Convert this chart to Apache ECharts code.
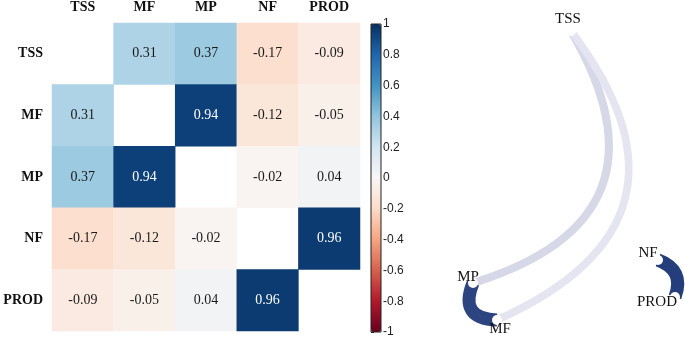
<!DOCTYPE html>
<html>
<head>
<meta charset="utf-8">
<script src="https://cdn.jsdelivr.net/npm/echarts@6/dist/echarts.min.js"></script>
<style>
  html, body { margin: 0; padding: 0; background: #fff; }
  #chart { width: 685px; height: 338px; }
</style>
</head>
<body>
<div id="chart"></div>
<script>
// variables (matrix order)
const vars = ['TSS', 'MF', 'MP', 'NF', 'PROD'];
// correlation matrix, null on the diagonal
const corrTSS  = [null, 0.31, 0.37, -0.17, -0.09];
const corrMF   = [0.31, null, 0.94, -0.12, -0.05];
const corrMP   = [0.37, 0.94, null, -0.02, 0.04];
const corrNF   = [-0.17, -0.12, -0.02, null, 0.96];
const corrPROD = [-0.09, -0.05, 0.04, 0.96, null];
const corrRows = [corrTSS, corrMF, corrMP, corrNF, corrPROD];

// network layout (node positions, layout units)
const netNodes = ['TSS', 'MP', 'MF', 'NF', 'PROD'];
const netX = [571, 473, 497, 658, 675];
const netY = [31, 283, 320, 260, 297];
// network edges (pairs with |r| > 0.3)
const netEdges = [['TSS', 'MP', 0.37], ['TSS', 'MF', 0.31], ['MP', 'MF', 0.94], ['NF', 'PROD', 0.96]];

const rdbu = ['#67001f', '#b2182b', '#d6604d', '#f4a582', '#fddbc7', '#f9f7f6',
              '#d1e5f0', '#92c5de', '#4393c3', '#2166ac', '#053061'];
const serif = 'Liberation Serif';

const heatData = [];
corrRows.forEach((row, i) => {
    row.forEach((v, j) => {
        if (v === null) return;
        heatData.push({
            value: [j, i, v],
            label: {color: Math.abs(v) > 0.6 ? '#ffffff' : '#1a1a1a'}
        });
    });
});

// label offsets / curveness are just styling
const labelOffset = {TSS: [-3, -12], MP: [-5, -6], MF: [3, 9], NF: [-10, -7], PROD: [-18, 5]};
const curve = {'TSS-MP': 0.63, 'TSS-MF': 0.63, 'MP-MF': -0.72, 'NF-PROD': 0.5};

const nodeData = netNodes.map((n, i) => ({
    name: n,
    value: [netX[i], netY[i]],
    label: {offset: labelOffset[n]}
}));

// edge colour: lavender for weak, dark blue for strong, faded toward white
const weakCol = [100, 100, 170];
const strongCol = [29, 56, 118];
const linkData = netEdges.map(e => {
    const r = Math.abs(e[2]);
    const a = Math.max(0.05, Math.min(1, (r - 0.18) / 0.8));
    const rgb = weakCol.map((c, k) => {
        const base = c + (strongCol[k] - c) * a;
        return Math.round(255 - a * (255 - base));
    });
    return {
        source: e[0],
        target: e[1],
        lineStyle: {
            width: 5 + 8.5 * r,
            color: 'rgb(' + rgb.join(',') + ')',
            opacity: 1,
            curveness: curve[e[0] + '-' + e[1]]
        }
    };
});

const myChart = echarts.init(document.getElementById('chart'), null, {renderer: 'canvas'});

const option = {
    backgroundColor: '#ffffff',
    animation: false,
    grid: [
        {left: 52, top: 23, width: 308, height: 308},
        {left: 371, top: 24, width: 10, height: 308, show: true, borderColor: '#222', borderWidth: 1, backgroundColor: 'transparent', z: 10},
        {left: 440, top: 0, width: 245, height: 338}
    ],
    xAxis: [
        {
            type: 'category', gridIndex: 0, data: vars, position: 'top',
            axisLine: {show: false}, axisTick: {show: false}, splitLine: {show: false},
            axisLabel: {fontFamily: serif, fontWeight: 'bold', fontSize: 14, color: '#111', margin: 9}
        },
        {type: 'value', gridIndex: 1, show: false},
        {type: 'value', gridIndex: 2, min: 440, max: 685, show: false}
    ],
    yAxis: [
        {
            type: 'category', gridIndex: 0, data: vars, inverse: true,
            axisLine: {show: false}, axisTick: {show: false}, splitLine: {show: false},
            axisLabel: {fontFamily: serif, fontWeight: 'bold', fontSize: 14, color: '#111', margin: 9}
        },
        {
            type: 'value', gridIndex: 1, position: 'right', min: -1, max: 1, interval: 0.2,
            axisLine: {show: false},
            axisTick: {show: true, length: 3, lineStyle: {color: '#222'}},
            splitLine: {show: false},
            axisLabel: {
                fontFamily: 'Liberation Sans', fontSize: 12, color: '#222', margin: 2,
                formatter: v => String(+v.toFixed(1))
            }
        },
        {type: 'value', gridIndex: 2, min: 0, max: 338, inverse: true, show: false}
    ],
    visualMap: {
        type: 'continuous',
        seriesIndex: 0,
        min: -1, max: 1,
        calculable: false,
        hoverLink: false,
        orient: 'vertical',
        left: 371, top: 24,
        itemWidth: 10, itemHeight: 308,
        padding: 0,
        text: null,
        showLabel: false,
        inRange: {color: rdbu}
    },
    series: [
        {
            type: 'heatmap',
            xAxisIndex: 0, yAxisIndex: 0,
            data: heatData,
            label: {
                show: true, fontFamily: serif, fontSize: 14,
                formatter: p => p.value[2].toFixed(2)
            },
            itemStyle: {borderWidth: 0}
        },
        {
            type: 'graph',
            coordinateSystem: 'cartesian2d',
            xAxisIndex: 2, yAxisIndex: 2,
            symbol: 'circle',
            symbolSize: 10,
            itemStyle: {color: '#ffffff'},
            label: {show: true, position: 'inside', fontFamily: serif, fontSize: 15, color: '#111'},
            emphasis: {disabled: true},
            data: nodeData,
            links: linkData,
            z: 2
        }
    ]
};

option && myChart.setOption(option);
</script>
</body>
</html>
